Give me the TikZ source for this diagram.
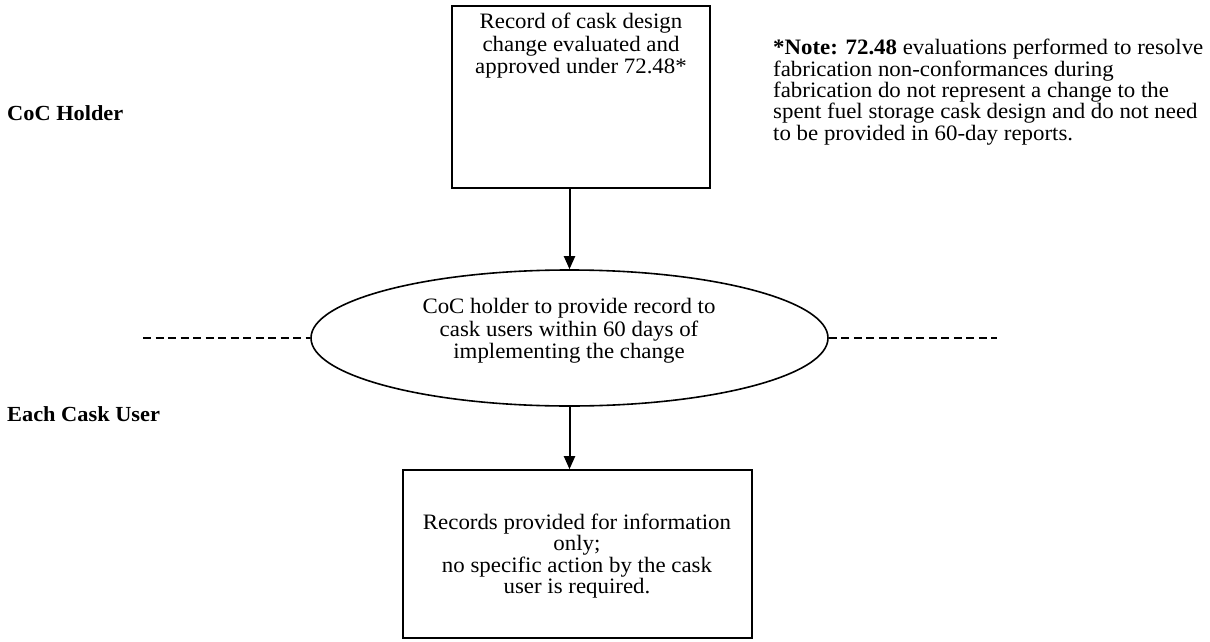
\documentclass[tikz,border=0pt]{standalone}
\usepackage{fontspec}
\setmainfont{Liberation Serif}[FakeStretch=1.04]
\usetikzlibrary{arrows.meta,shapes.geometric}
\begin{document}
\begin{tikzpicture}[x=1pt,y=-1pt,
  box/.style={draw, line width=1.6pt, inner sep=0pt},
  txt/.style={font=\fontsize{22}{22}\selectfont, align=center, inner sep=0pt},
  lbl/.style={font=\fontsize{21.5}{22}\selectfont\bfseries, inner sep=0pt},
  arr/.style={line width=2pt, -{Triangle[width=11pt,length=13pt]}},
  dashline/.style={line width=2.4pt, dash pattern=on 8pt off 4.5pt}]
\useasboundingbox (0,0) rectangle (1210,642);
% boxes
\node[box, minimum width=258pt, minimum height=182pt] (rec) at (581,97) {};
\node[txt, font=\fontsize{22}{22.5}\selectfont, anchor=north] (rectext) at (581,13)
  {Record of cask design\\ change evaluated and\\ approved under 72.48*};
\node[draw, ellipse, line width=1.6pt, inner sep=0pt, minimum width=517pt, minimum height=136pt] (ell) at (569.5,338) {};
\node[txt, font=\fontsize{22}{22.5}\selectfont] (elltext) at (569,331)
  {CoC holder to provide record to\\ cask users within 60 days of\\ implementing the change};
\node[box, minimum width=349pt, minimum height=168pt] (res) at (577.5,554) {};
\node[txt, font=\fontsize{22}{21.3}\selectfont] (restext) at (577,556)
  {Records provided for information\\ only;\\ no specific action by the cask\\ user is required.};
% note
\node[anchor=north west, align=left, inner sep=0pt, font=\fontsize{22}{21.4}\selectfont] (note) at (773,39)
  {\textbf{*Note: 72.48} evaluations performed to resolve\\
   fabrication non-conformances during\\
   fabrication do not represent a change to the\\
   spent fuel storage cask design and do not need\\
   to be provided in 60-day reports.};
% lane labels
\node[lbl, anchor=base west] (coc) at (7,120) {CoC Holder};
\node[lbl, anchor=base west] (user) at (7,421) {Each Cask User};
% dashed lane divider
\coordinate (dl) at (143,338);
\coordinate (dr) at (997,338);
\draw[dashline] (dl) -- (ell.west);
\draw[dashline] (ell.east) -- (dr);
% arrows
\draw[arr] (rec.south -| ell.north) -- (ell.north);
\draw[arr] (ell.south) -- (ell.south |- res.north);
\end{tikzpicture}
\end{document}
